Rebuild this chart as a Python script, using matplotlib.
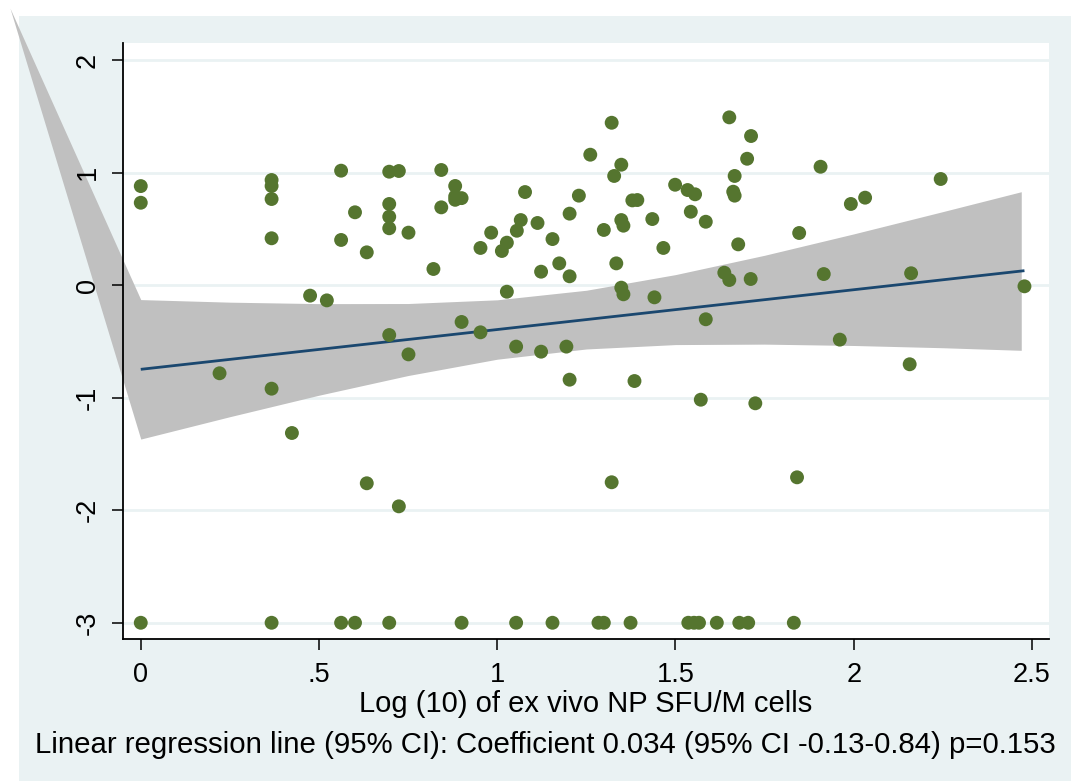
import matplotlib
matplotlib.use("Agg")
import matplotlib.pyplot as plt
from matplotlib.patches import Rectangle
import numpy as np

plt.rcParams['font.family'] = ['Liberation Sans', 'DejaVu Sans']

# ---- data ----
x_vals = [0, 0, 0,
          0.221,
          0.367, 0.367, 0.367, 0.367, 0.367, 0.367,
          0.424, 0.475, 0.522,
          0.562, 0.562, 0.562,
          0.601, 0.601,
          0.634, 0.634,
          0.697, 0.697, 0.697, 0.697, 0.697, 0.697,
          0.724, 0.724,
          0.751, 0.751,
          0.821,
          0.843, 0.843,
          0.882, 0.882, 0.882,
          0.900, 0.900, 0.900,
          0.953, 0.953,
          0.983, 1.013,
          1.027, 1.027,
          1.055, 1.053, 1.053,
          1.066, 1.078, 1.113,
          1.123, 1.123,
          1.155, 1.155,
          1.174, 1.194,
          1.203, 1.203, 1.203,
          1.229, 1.261, 1.284,
          1.299, 1.299,
          1.321, 1.321,
          1.328, 1.334,
          1.348, 1.348, 1.348,
          1.354, 1.354,
          1.374, 1.379, 1.385, 1.393,
          1.435, 1.441, 1.466, 1.499, 1.534, 1.536, 1.543, 1.552, 1.555, 1.566, 1.571,
          1.585, 1.585,
          1.616, 1.637,
          1.651, 1.651,
          1.662,
          1.666, 1.666,
          1.676, 1.679, 1.701, 1.704, 1.711, 1.712, 1.724,
          1.832, 1.841, 1.847, 1.907, 1.916, 1.961, 1.992, 2.032,
          2.157, 2.161, 2.244, 2.479]
y_vals = [0.882, 0.734, -3,
          -0.782,
          0.936, 0.883, 0.767, 0.418, -0.919, -3,
          -1.313, -0.092, -0.134,
          1.019, 0.403, -3,
          0.649, -3,
          0.293, -1.760,
          1.010, 0.723, 0.610, 0.507, -0.442, -3,
          1.016, -1.965,
          0.468, -0.614,
          0.145,
          1.025, 0.693,
          0.883, 0.79, 0.76,
          0.775, -0.326, -3,
          0.332, -0.418,
          0.468, 0.305,
          0.379, -0.057,
          0.485, -0.545, -3,
          0.580, 0.829, 0.554,
          0.121, -0.590,
          0.411, -3,
          0.195, -0.545,
          0.080, 0.637, -0.839,
          0.797, 1.161, -3,
          0.492, -3,
          1.445, -1.751,
          0.972, 0.195,
          1.072, 0.580, -0.021,
          0.530, -0.080,
          -3, 0.755, -0.851, 0.758,
          0.589, -0.107, 0.332, 0.894, 0.847, -3, 0.654, -3, 0.809, -3, -1.017,
          0.565, -0.302,
          -3, 0.112,
          1.493, 0.047,
          0.832,
          0.972, 0.797,
          0.364, -3, 1.125, -3, 0.056, 1.327, -1.049,
          -3, -1.707, 0.465, 1.054, 0.100, -0.483, 0.723, 0.779,
          -0.702, 0.107, 0.945, -0.009]

# fitted line and 95% CI band (first entry is the stray vertex of the original band polygon)
band_x  = [-0.367, 0.0, 0.25, 0.5, 0.75, 1.0, 1.25, 1.5, 1.75, 2.0, 2.25, 2.47]
band_hi = [2.465, -0.127, -0.150, -0.163, -0.162, -0.129, -0.044, 0.095, 0.267, 0.457, 0.655, 0.832]
band_lo = [2.465, -1.367, -1.168, -0.977, -0.802, -0.657, -0.566, -0.527, -0.523, -0.535, -0.555, -0.578]
fit_x = [0.0, 2.479]
fit_y = [-0.747, 0.130]

x_ticks = [0, 0.5, 1, 1.5, 2, 2.5]
x_ticklabels = ['0', '.5', '1', '1.5', '2', '2.5']
y_ticks = [-3, -2, -1, 0, 1, 2]
y_ticklabels = ['-3', '-2', '-1', '0', '1', '2']

x_label = 'Log (10) of ex vivo NP SFU/M cells'
caption = 'Linear regression line (95% CI): Coefficient 0.034 (95% CI -0.13-0.84) p=0.153'

# ---- styling ----
W, H = 1071, 781
bg = '#EAF2F3'
green = '#55752F'
navy = '#1A476F'
band_col = '#C0C0C0'

fig = plt.figure(figsize=(W / 100, H / 100), dpi=100, facecolor='white')
fig.patches.append(Rectangle((19 / W, 0), 1 - 19 / W, 1 - 16 / H,
                             transform=fig.transFigure, facecolor=bg,
                             edgecolor='none', zorder=-1))

ax = fig.add_axes([123.3 / W, 1 - 639.3 / H, (1048.7 - 123.3) / W, (639.3 - 43) / H])
ax.set_facecolor('white')
ax.set_xlim(-0.049, 2.547)
ax.set_ylim(-3.147, 2.154)

for yt in y_ticks:
    ax.axhline(yt, color=bg, lw=2.0, zorder=0.5)

ax.fill_between(band_x, band_lo, band_hi, color=band_col, lw=0,
                zorder=1, clip_on=False)
ax.plot(fit_x, fit_y, color=navy, lw=2.0, zorder=2, solid_capstyle='butt')
ax.scatter(x_vals, y_vals, s=100, color=green, edgecolors='none', zorder=3)

for s in ['top', 'right']:
    ax.spines[s].set_visible(False)
for s in ['left', 'bottom']:
    ax.spines[s].set_linewidth(1.3)
    ax.spines[s].set_color('black')

ax.set_xticks(x_ticks)
ax.set_xticklabels(x_ticklabels)
ax.set_yticks(y_ticks)
ax.set_yticklabels(y_ticklabels)
ax.tick_params(axis='both', length=8, width=1.1, color='black',
               labelsize=19.5, pad=8)
ax.tick_params(axis='y', labelrotation=90)
for lab in ax.get_yticklabels():
    lab.set_va('center')

ax.set_xlabel(x_label, fontsize=21, labelpad=2)
fig.text(545 / W, 1 - 745 / H, caption, fontsize=21.2, ha='center', va='center')

fig.savefig('out.png', dpi=100, facecolor='white')
